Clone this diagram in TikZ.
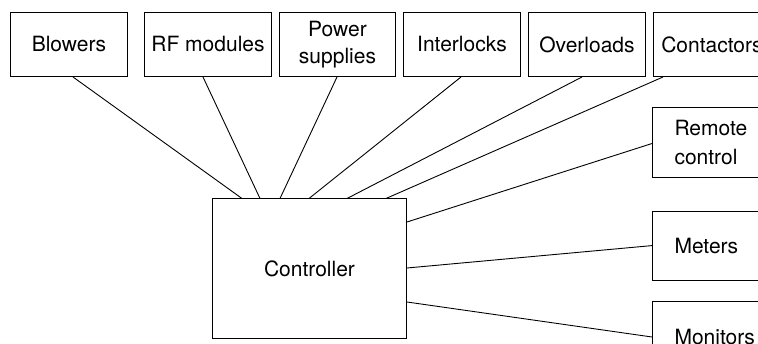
\documentclass[tikz,border=0pt]{standalone}
\usepackage{fontspec}
\setmainfont{TeX Gyre Heros}
\begin{document}
\begin{tikzpicture}[x=1pt,y=-1pt,
  box/.style={draw,line width=1pt,anchor=north west,inner sep=0pt,minimum height=64pt,
    font=\fontsize{21}{26.5}\selectfont,align=center},
  sidebox/.style={draw,line width=1pt,anchor=north west,inner ysep=0pt,inner xsep=22pt,
    text width=98pt,minimum height=70pt,font=\fontsize{21}{28.5}\selectfont,align=left},
  wire/.style={line width=0.9pt}]
\clip (0,0) rectangle (758,344);
\fill[white] (0,0) rectangle (758,344);
\node[box,minimum width=117pt] (blow) at (10,12) {Blowers};
\node[box,minimum width=127pt] (rf) at (144,12) {RF modules};
\node[box,minimum width=116pt] (pow) at (279,12) {Power\\supplies};
\node[box,minimum width=117pt] (intl) at (403,12) {Interlocks};
\node[box,minimum width=117pt] (ovl) at (528,12) {Overloads};
\node[box,minimum width=117pt] (cont) at (653,12) {Contactors};
\node[draw,line width=1pt,anchor=north west,minimum width=194pt,minimum height=139.5pt,
  font=\fontsize{21}{26.5}\selectfont] (ctrl) at (212,198.5) {Controller};
\node[sidebox] (rem) at (652,107) {Remote\\control};
\node[sidebox,minimum height=69pt] (met) at (652,211) {Meters};
\node[sidebox,minimum height=71pt] (mon) at (652,301.5) {Monitors};
\draw[wire] ([xshift=63pt]blow.south west) -- ([xshift=30pt]ctrl.north west);
\draw[wire] ([xshift=59pt]rf.south west) -- ([xshift=48pt]ctrl.north west);
\draw[wire] ([xshift=58pt]pow.south west) -- ([xshift=68pt]ctrl.north west);
\draw[wire] ([xshift=58pt]intl.south west) -- ([xshift=97pt]ctrl.north west);
\draw[wire] ([xshift=54pt]ovl.south west) -- ([xshift=135pt]ctrl.north west);
\draw[wire] ([xshift=10pt]cont.south west) -- ([xshift=174pt]ctrl.north west);
\draw[wire] ([yshift=-23.5pt]ctrl.north east) -- ([yshift=-36.5pt]rem.north west);
\draw[wire] ([yshift=-69.5pt]ctrl.north east) -- ([yshift=-34.6pt]met.north west);
\draw[wire] ([yshift=-103.5pt]ctrl.north east) -- ([yshift=-35.5pt]mon.north west);
\end{tikzpicture}
\end{document}
